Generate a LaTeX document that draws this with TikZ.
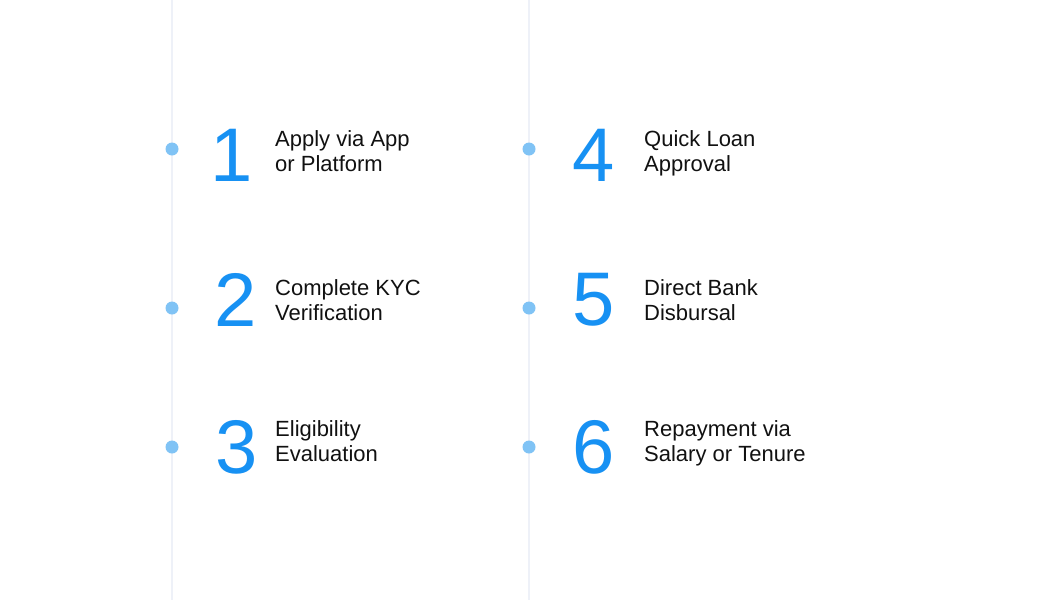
\documentclass[tikz,border=0pt]{standalone}
\usepackage{fontspec}
\setmainfont{Liberation Sans}
\usetikzlibrary{positioning}
\definecolor{stepblue}{HTML}{1791F3}
\definecolor{dotblue}{HTML}{80C3F5}
\definecolor{railgray}{HTML}{EEF1F8}
\definecolor{inkblack}{HTML}{111111}
\begin{document}
\begin{tikzpicture}[x=1pt,y=-1pt,
    step num/.style={inner sep=0pt,text=stepblue,font=\fontsize{76}{76}\selectfont},
    step dot/.style={circle,fill=dotblue,inner sep=0pt,minimum size=13pt},
    step text/.style={anchor=base west,inner sep=0pt,align=left,text=inkblack,
                      font=\fontsize{22}{25}\selectfont},
    rail/.style={railgray,line width=1.6pt}]

      \useasboundingbox[fill=white] (0,0) rectangle (1050,600);

      % rails
      \coordinate (railAtop) at (172,0);
      \coordinate (railAbot) at (172,600);
      \coordinate (railBtop) at (529,0);
      \coordinate (railBbot) at (529,600);
      \draw[rail] (railAtop) -- (railAbot);
      \draw[rail] (railBtop) -- (railBbot);

      % left column
      \node[step dot] (d1) at (172,149) {};
      \node[step dot] (d2) at (172,308) {};
      \node[step dot] (d3) at (172,447) {};
      \node[step num] (n1) at (232,155) {1};
      \node[step num] (n2) at (236,300) {2};
      \node[step num] (n3) at (237,447) {3};
      \node[step text] (t1) at (275,171) {Apply via App\\or Platform};
      \node[step text] (t2) at (275,320) {Complete KYC\\Verification};
      \node[step text] (t3) at (275,461) {Eligibility\\Evaluation};

      % right column
      \node[step dot] (d4) at (529,149) {};
      \node[step dot] (d5) at (529,308) {};
      \node[step dot] (d6) at (529,447) {};
      \node[step num] (n4) at (594,155) {4};
      \node[step num] (n5) at (594,300) {5};
      \node[step num] (n6) at (594,447) {6};
      \node[step text] (t4) at (644,171) {Quick Loan\\Approval};
      \node[step text] (t5) at (644,320) {Direct Bank\\Disbursal};
      \node[step text] (t6) at (644,461) {Repayment via\\Salary or Tenure};
    \end{tikzpicture}
\end{document}
